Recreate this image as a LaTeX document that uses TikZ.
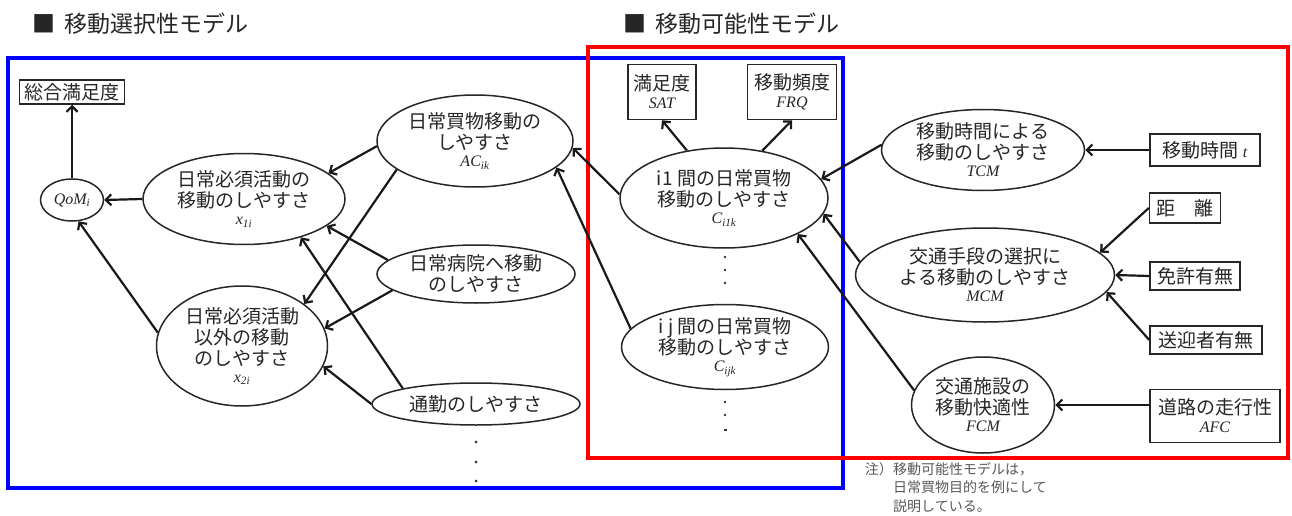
\documentclass[tikz,border=0pt]{standalone}
\usepackage{fontspec}
\usetikzlibrary{shapes.geometric,arrows.meta}
\newfontfamily\jp{Noto Sans CJK JP}
\newfontfamily\tms{Liberation Serif}
\newcommand\lat[1]{{\tms\itshape\fontsize{16}{16}\selectfont #1}}
\newcommand\lsb[2]{{\tms\itshape\fontsize{16}{16}\selectfont #1\textsubscript{#2}}}
\tikzset{
  lbl/.style={font=\jp\fontsize{19}{21}\selectfont, text=black!85, align=center},
  ell/.style={lbl, draw=black!85, line width=1.5pt, ellipse, inner sep=0pt},
  bx/.style={lbl, draw=black!85, line width=1.5pt, rectangle, inner sep=0pt},
  arr/.style={draw=black!90, line width=2.2pt, -{Straight Barb[length=5.5pt,width=11pt]}},
  ttl/.style={font=\jp\fontsize{23}{23}\selectfont, text=black!85, anchor=west, inner sep=0pt},
  notetxt/.style={font=\jp\fontsize{14}{18.5}\selectfont, text=black!65, align=left, inner sep=0pt},
  dotc/.style={fill=black!80},
}
\begin{document}
\begin{tikzpicture}[x=1pt,y=-1pt]
\useasboundingbox (0,0) rectangle (1292,516);
\fill[white] (0,0) rectangle (1292,516);

% titles
\node[ttl] (t1) at (32,24) {■\hspace{9pt}移動選択性モデル};
\node[ttl] (t2) at (623,24) {■\hspace{9pt}移動可能性モデル};

% frames
\draw[blue, line width=4pt] (8,58) rectangle (843,488);
\draw[red, line width=4pt] (588,47) rectangle (1288,458);

% left model
\node[bx, minimum width=105pt, minimum height=24pt] (total) at (72,92) {総合満足度};
\node[ell, minimum width=63pt, minimum height=42pt] (qom) at (72,200) {\lsb{QoM}{i}};
\node[ell, minimum width=202pt, minimum height=91pt] (x1) at (244,199) {日常必須活動の\\移動のしやすさ\\[-4pt]\lsb{x}{1i}};
\node[ell, minimum width=196pt, minimum height=92pt] (ac) at (475,141) {日常買物移動の\\しやすさ\\[-4pt]\lsb{AC}{ik}};
\node[ell, minimum width=198pt, minimum height=58pt] (hosp) at (476,274) {日常病院へ移動\\のしやすさ};
\node[ell, minimum width=171pt, minimum height=120pt] (x2) at (242,346) {日常必須活動\\以外の移動\\のしやすさ\\[-4pt]\lsb{x}{2i}};
\node[ell, minimum width=208pt, minimum height=42pt] (comm) at (476,404) {通勤のしやすさ};

% right model
\node[bx, minimum width=68pt, minimum height=55pt] (sat) at (662,92) {満足度\\[-3pt]\lat{SAT}};
\node[bx, minimum width=89pt, minimum height=55pt] (frq) at (792,92) {移動頻度\\[-3pt]\lat{FRQ}};
\node[ell, minimum width=208pt, minimum height=100pt] (ci1) at (724,198) {i1 間の日常買物\\移動のしやすさ\\[-4pt]\lsb{C}{i1k}};
\node[ell, minimum width=207pt, minimum height=85pt] (cij) at (725,347) {i j 間の日常買物\\移動のしやすさ\\[-4pt]\lsb{C}{ijk}};
\node[ell, minimum width=203pt, minimum height=81pt] (tcm) at (983,150) {移動時間による\\移動のしやすさ\\[-4pt]\lat{TCM}};
\node[ell, minimum width=259pt, minimum height=94pt] (mcm) at (985,275) {交通手段の選択に\\よる移動のしやすさ\\[-4pt]\lat{MCM}};
\node[ell, minimum width=143pt, minimum height=96pt] (fcm) at (983,405) {交通施設の\\移動快適性\\[-4pt]\lat{FCM}};
\node[bx, minimum width=110pt, minimum height=32pt] (time) at (1205,150) {移動時間 \lat{t}};
\node[bx, minimum width=71pt, minimum height=30pt] (dist) at (1185,208) {距\hspace{1em}離};
\node[bx, minimum width=90pt, minimum height=28pt] (lic) at (1195,276) {免許有無};
\node[bx, minimum width=112pt, minimum height=28pt] (pick) at (1206,340) {送迎者有無};
\node[bx, minimum width=130pt, minimum height=53pt] (afc) at (1215,416) {道路の走行性\\[-3pt]\lat{AFC}};

% note
\node[notetxt, anchor=north east] (nhead) at (893,462) {注）};
\node[notetxt, anchor=north west] (nbody) at (893,462) {移動可能性モデルは，\\日常買物目的を例にして\\説明している。};

% dots
\fill[dotc] (725,257) circle[radius=1.3pt] (725,270) circle[radius=1.3pt] (725,283) circle[radius=1.3pt];
\fill[dotc] (725,402) circle[radius=1.3pt] (725,415) circle[radius=1.3pt];
\fill[dotc] (723.5,429.3) rectangle (726.5,430.7);
\fill[dotc] (476,442) circle[radius=1.5pt] (476,462) circle[radius=1.5pt] (476,481) circle[radius=1.5pt];

% arrows left
\draw[arr] (qom) -- (total);
\draw[arr] (x1.west) -- (qom.east);
\draw[arr] (x2.171) -- (qom.287);
\draw[arr] (ac.183) -- (x1.17);
\draw[arr] (ac.200) -- (x2.34);
\draw[arr] (hosp.171) -- (x1.342);
\draw[arr] (hosp.191) -- (x2.12);
\draw[arr] (comm.168) -- (x1.326);
\draw[arr] (comm.180) -- (x2.346);
% arrows right
\draw[arr] (ci1.178) -- (ac.356);
\draw[arr] (cij.169) -- (ac.342);
\draw[arr] (ci1.128) -- (sat.south);
\draw[arr] (ci1.51) -- (frq.south);
\draw[arr] (tcm.177) -- (ci1.11);
\draw[arr] (mcm.174) -- (ci1.351);
\draw[arr] (fcm.168) -- (ci1.334);
\draw[arr] (time.west) -- (tcm.east);
\draw[arr] (dist.west) -- (mcm.11);
\draw[arr] (lic.west) -- (mcm.east);
\draw[arr] (pick.west) -- (mcm.352);
\draw[arr] (afc.west |- fcm.east) -- (fcm.east);
\end{tikzpicture}
\end{document}
